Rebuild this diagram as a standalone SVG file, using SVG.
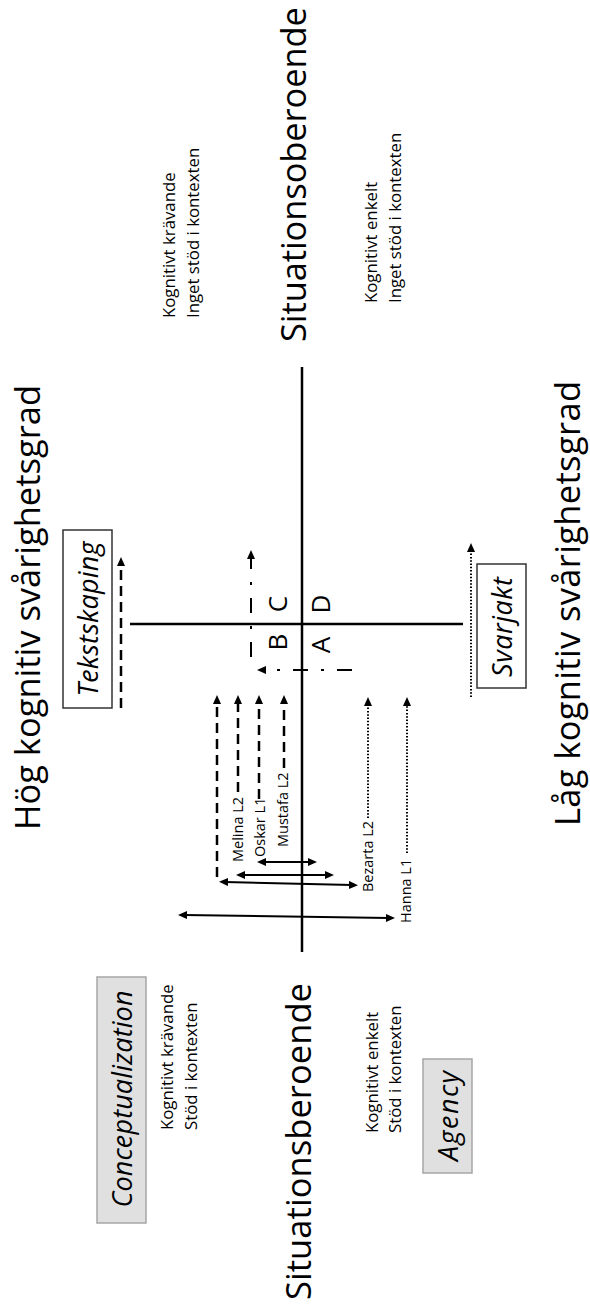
<svg xmlns="http://www.w3.org/2000/svg" width="590" height="1308" viewBox="0 0 590 1308">
  <style>
    text { font-family: "Open Sans", "Liberation Sans", sans-serif; fill: #000; }
    .title { font-size: 34.5px; }
    .note { font-size: 16.8px; }
    .who { font-size: 14.5px; }
    .quad { font-size: 26px; text-anchor: middle; }
    .tag { font-size: 27px; font-style: italic; text-anchor: middle; }
    .grey { fill: #e0e0e0; stroke: #a6a6a6; stroke-width: 1.5; }
    .plain { fill: #fff; stroke: #333; stroke-width: 1.5; }
    .axis { stroke: #000; stroke-width: 2.5; fill: none; }
    .solid { stroke: #000; stroke-width: 2; fill: none; }
    .dash { stroke: #000; stroke-width: 2.5; fill: none; stroke-dasharray: 10 6; }
    .dot { stroke: #000; stroke-width: 2; fill: none; stroke-dasharray: 1.5 1.8; }
    .dashdot { stroke: #000; stroke-width: 2; fill: none; stroke-dasharray: 15 13 3 13; }
  </style>
  <defs>
    <marker id="head" markerUnits="userSpaceOnUse" markerWidth="10" markerHeight="8" refX="3" refY="4" orient="auto-start-reverse">
      <path d="M0,0 L9,4 L0,8 z" fill="#000"/>
    </marker>
  </defs>

  <!-- axes -->
  <g id="axes">
    <line class="axis" x1="130" y1="624" x2="463" y2="624"/>
    <line class="axis" x1="302" y1="367" x2="302" y2="952"/>
  </g>

  <!-- axis titles -->
  <g id="title-high">
    <text class="title" transform="translate(40,830) rotate(-90)" textLength="445">Hög kognitiv svårighetsgrad</text>
  </g>
  <g id="title-low">
    <text class="title" transform="translate(580,826) rotate(-90)" textLength="445">Låg kognitiv svårighetsgrad</text>
  </g>
  <g id="title-independent">
    <text class="title" transform="translate(306,342) rotate(-90)" textLength="335">Situationsoberoende</text>
  </g>
  <g id="title-dependent">
    <text class="title" transform="translate(311,1300) rotate(-90)" textLength="317">Situationsberoende</text>
  </g>

  <!-- quadrant descriptions -->
  <g id="note-high-independent">
    <text class="note" transform="translate(175,318) rotate(-90)">Kognitivt krävande</text>
    <text class="note" transform="translate(199,318) rotate(-90)">Inget stöd i kontexten</text>
  </g>
  <g id="note-low-independent">
    <text class="note" transform="translate(377,303) rotate(-90)">Kognitivt enkelt</text>
    <text class="note" transform="translate(401,303) rotate(-90)">Inget stöd i kontexten</text>
  </g>
  <g id="note-high-dependent">
    <text class="note" transform="translate(173,1130) rotate(-90)">Kognitivt krävande</text>
    <text class="note" transform="translate(197,1130) rotate(-90)">Stöd i kontexten</text>
  </g>
  <g id="note-low-dependent">
    <text class="note" transform="translate(378,1133) rotate(-90)">Kognitivt enkelt</text>
    <text class="note" transform="translate(401,1133) rotate(-90)">Stöd i kontexten</text>
  </g>

  <!-- quadrant letters -->
  <g id="quadrants">
    <text class="quad" transform="translate(287,604) rotate(-90)">C</text>
    <text class="quad" transform="translate(287,642) rotate(-90)">B</text>
    <text class="quad" transform="translate(330,604) rotate(-90)">D</text>
    <text class="quad" transform="translate(330,645) rotate(-90)">A</text>
  </g>

  <!-- boxed tags -->
  <g id="tag-tekstskaping">
    <rect class="plain" x="63" y="530" width="49" height="178"/>
    <text class="tag" transform="translate(98,619) rotate(-90)" textLength="155">Tekstskaping</text>
  </g>
  <g id="tag-conceptualization">
    <rect class="grey" x="97" y="977" width="49" height="246"/>
    <text class="tag" transform="translate(132,1099) rotate(-90)" textLength="217">Conceptualization</text>
  </g>
  <g id="tag-svarjakt">
    <rect class="plain" x="477" y="564" width="49" height="124"/>
    <text class="tag" transform="translate(512,627) rotate(-90)" textLength="100">Svarjakt</text>
  </g>
  <g id="tag-agency">
    <rect class="grey" x="423" y="1059" width="49" height="114"/>
    <text class="tag" transform="translate(458,1116) rotate(-90)" textLength="90">Agency</text>
  </g>

  <!-- learner labels -->
  <g id="learner-melina">
    <text class="who" transform="translate(243,862) rotate(-90)">Melina L2</text>
  </g>
  <g id="learner-oskar">
    <text class="who" transform="translate(265,857) rotate(-90)">Oskar L1</text>
  </g>
  <g id="learner-mustafa">
    <text class="who" transform="translate(288,847) rotate(-90)">Mustafa L2</text>
  </g>
  <g id="learner-bezarta">
    <text class="who" transform="translate(373,892) rotate(-90)">Bezarta L2</text>
  </g>
  <g id="learner-hanna">
    <text class="who" transform="translate(411,923) rotate(-90)">Hanna L1</text>
  </g>

  <!-- connectors -->
  <g id="connectors">
    <!-- task arrows -->
    <path class="dash" d="M121,708 V563" marker-end="url(#head)"/>
    <path class="dot" d="M471,697 V549" marker-end="url(#head)"/>
    <!-- B to C path -->
    <path class="dashdot" d="M352,670 H263" marker-end="url(#head)"/>
    <path class="dashdot" d="M251,657 V556" marker-end="url(#head)"/>
    <!-- progression arrows -->
    <path class="dash" d="M217,877 V701" marker-end="url(#head)"/>
    <path class="dash" d="M238,792 V701" marker-end="url(#head)"/>
    <path class="dash" d="M259,799 V701" marker-end="url(#head)"/>
    <path class="dash" d="M284,768 V701" marker-end="url(#head)"/>
    <path class="dot" d="M368,818 V703" marker-end="url(#head)"/>
    <path class="dot" d="M407,853 V703" marker-end="url(#head)"/>
    <!-- ranges -->
    <path class="solid" d="M263,862 H311" marker-start="url(#head)" marker-end="url(#head)"/>
    <path class="solid" d="M242,875 H328" marker-start="url(#head)" marker-end="url(#head)"/>
    <path class="solid" d="M225,882 L352,885" marker-start="url(#head)" marker-end="url(#head)"/>
    <path class="solid" d="M184,915 L389,918" marker-start="url(#head)" marker-end="url(#head)"/>
  </g>
</svg>
